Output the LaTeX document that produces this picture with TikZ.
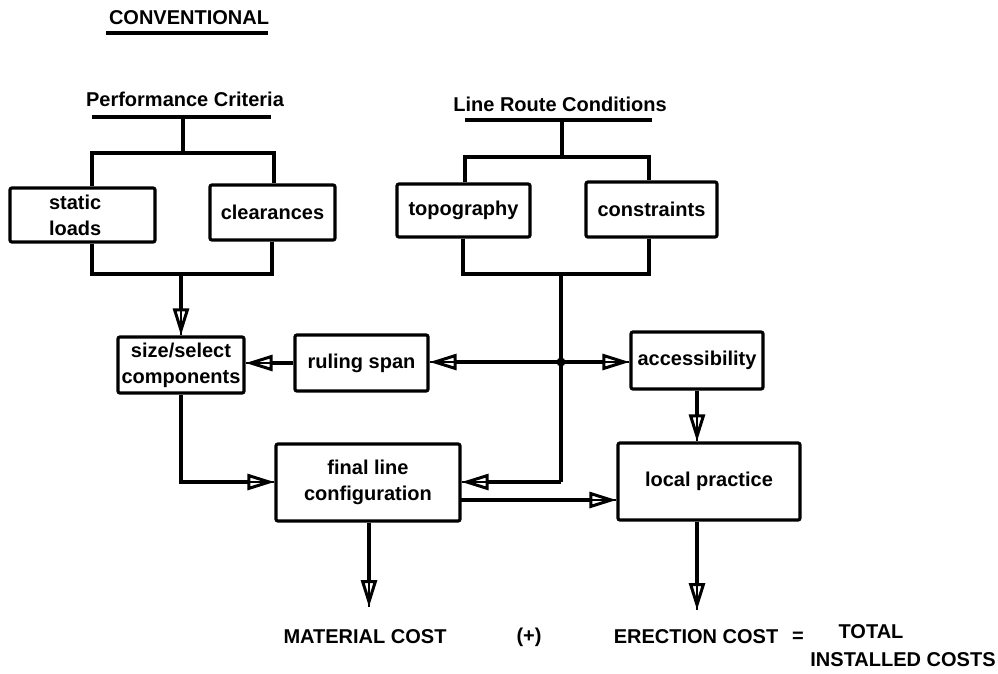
\documentclass[tikz,border=0pt]{standalone}
\usepackage{fontspec}
\setmainfont{Liberation Sans}
\usetikzlibrary{arrows.meta}
\begin{document}
\begin{tikzpicture}[x=1pt,y=-1pt,
  every node/.style={font=\fontsize{20}{26}\selectfont\bfseries, inner sep=0pt},
  box/.style={draw, line width=3.2pt, rounded corners=2pt, align=center},
  wire/.style={line width=3.2pt},
  arr/.style={line width=3.2pt,
    -{Triangle[open,length=27pt,width=16pt,line width=3pt]},
    postaction={draw,-,line width=2.4pt}},
]
\useasboundingbox (0,0) rectangle (998,673);

% titles
\node (conv) at (189,18) {CONVENTIONAL};
\coordinate (convL) at (106,33);
\coordinate (convR) at (268,33);
\draw[wire] (convL) -- (convR);

\node (perf) at (185,99) {Performance Criteria};
\coordinate (perfL) at (92,117);
\coordinate (perfR) at (271,117);
\draw[wire] (perfL) -- (perfR);

\node (route) at (560,104) {Line Route Conditions};
\coordinate (routeL) at (465,120);
\coordinate (routeR) at (652,120);
\draw[wire] (routeL) -- (routeR);

% boxes
\node[box, minimum width=145pt, minimum height=54pt, text width=67pt, inner xsep=39pt, align=left] (static) at (82.5,215) {static\\loads};
\node[box, minimum width=125pt, minimum height=55pt] (clear) at (272.5,212.5) {clearances};
\node[box, minimum width=133pt, minimum height=53pt] (topo) at (463.5,210.5) {topography};
\node[box, minimum width=131pt, minimum height=55pt] (constr) at (651.5,209.5) {constraints};
\node[box, minimum width=126pt, minimum height=56pt] (size) at (181,365) {size/select\\components};
\node[box, minimum width=133pt, minimum height=56pt] (ruling) at (361.5,363) {ruling span};
\node[box, minimum width=132pt, minimum height=57pt] (access) at (697,360.5) {accessibility};
\node[box, minimum width=182pt, minimum height=77pt] (local) at (709,481.5) {local practice};
\node[box, minimum width=184pt, minimum height=77pt] (final) at (368,482.5) {final line\\configuration};

% performance tree
\coordinate (pS) at (183,117);
\coordinate (pJ) at (183,153);
\coordinate (pl) at (92,153);
\coordinate (pr) at (274,153);
\draw[wire] (pS) -- (pJ);
\draw[wire] (pl |- static.north) -- (pl) -- (pr) -- (pr |- clear.north);
\coordinate (pbl) at (92,274);
\coordinate (pbr) at (272,274);
\coordinate (pbm) at (181,274);
\draw[wire] (pbl |- static.south) -- (pbl) -- (pbr) -- (pbr |- clear.south);
\draw[arr] (pbm) -- (size.north);

% route tree
\coordinate (rS) at (562,120);
\coordinate (rJ) at (562,157);
\coordinate (rl) at (465,157);
\coordinate (rr) at (649,157);
\draw[wire] (rS) -- (rJ);
\draw[wire] (rl |- topo.north) -- (rl) -- (rr) -- (rr |- constr.north);
\coordinate (rbl) at (463,274);
\coordinate (rbr) at (649,274);
\coordinate (rbm) at (561,274);
\draw[wire] (rbl |- topo.south) -- (rbl) -- (rbr) -- (rbr |- constr.south);

\coordinate (dot) at (561,362);
\coordinate (rcorner) at (561,482);
\draw[wire] (rbm) -- (dot) -- (rcorner);
\fill (dot) circle (4.5pt);
\draw[arr] (rcorner) -- (final.east |- rcorner);
\draw[arr] (dot) -- (ruling.east |- dot);
\draw[arr] (dot) -- (access.west |- dot);
\draw[arr] (ruling.west) -- (size.east |- ruling.west);
\draw[arr] (access.south) -- (access.south |- local.north);

\coordinate (scorner) at (181,482);
\draw[arr] (size.south) -- (scorner) -- (final.west |- scorner);
\coordinate (fo) at (460,500);
\draw[arr] (fo) -- (local.west |- fo);

\coordinate (matend) at (369,607);
\draw[arr] (final.south -| matend) -- (matend);
\coordinate (erend) at (697,610);
\draw[arr] (local.south -| erend) -- (erend);

% bottom texts
\node (mat) at (365,637) {MATERIAL COST};
\node (plus) at (529,637) {(+)};
\node (erec) at (696,637) {ERECTION COST};
\node (eq) at (798,637) {=};
\node (tot1) at (871,632) {TOTAL};
\node (tot2) at (903,660) {INSTALLED COSTS};
\end{tikzpicture}
\end{document}
